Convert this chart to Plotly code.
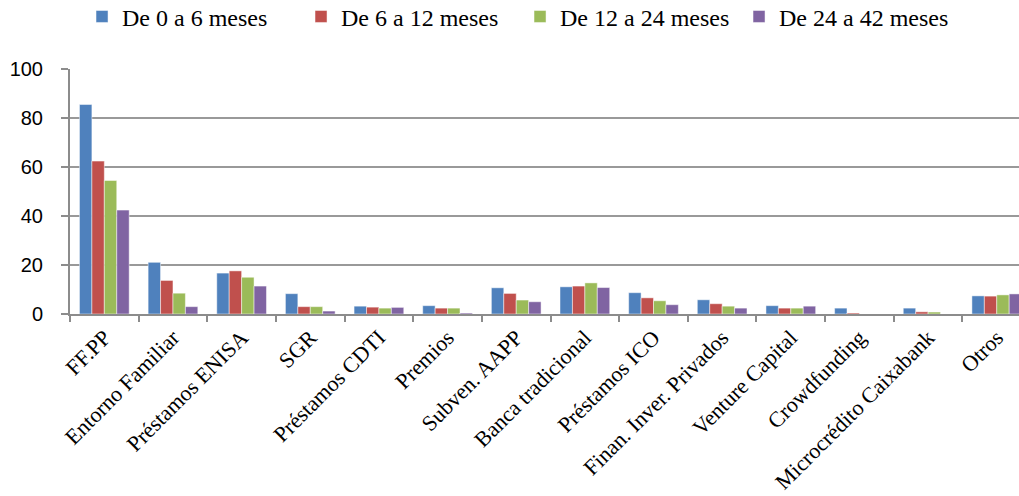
import plotly.graph_objects as go

# Fuentes de financiación por antigüedad de la empresa (%)
categorias = [
    "FF.PP", "Entorno Familiar", "Préstamos ENISA", "SGR", "Préstamos CDTI",
    "Premios", "Subven. AAPP", "Banca tradicional", "Préstamos ICO",
    "Finan. Inver. Privados", "Venture Capital", "Crowdfunding",
    "Microcrédito Caixabank", "Otros",
]
de_0_a_6 = [85.5, 21.1, 16.7, 8.3, 3.2, 3.4, 10.7, 11.1, 8.7, 5.8, 3.4, 2.4, 2.4, 7.4]
de_6_a_12 = [62.4, 13.7, 17.6, 3.0, 2.8, 2.4, 8.4, 11.4, 6.6, 4.2, 2.4, 0.4, 0.9, 7.3]
de_12_a_24 = [54.5, 8.5, 15.0, 3.0, 2.4, 2.4, 5.7, 12.7, 5.4, 3.2, 2.4, 0.0, 0.8, 7.8]
de_24_a_42 = [42.4, 3.0, 11.4, 1.2, 2.7, 0.4, 5.0, 10.8, 3.8, 2.4, 3.2, 0.0, 0.0, 8.2]

series = [
    ("De 0 a 6 meses", de_0_a_6, "#4F81BD"),
    ("De 6 a 12 meses", de_6_a_12, "#C0504D"),
    ("De 12 a 24 meses", de_12_a_24, "#9BBB59"),
    ("De 24 a 42 meses", de_24_a_42, "#8064A2"),
]

serif = "Liberation Serif"
sans = "Liberation Sans"

fig = go.Figure()
for nombre, valores, color in series:
    fig.add_trace(go.Bar(
        x=categorias, y=valores, name=nombre,
        marker=dict(color=color, line=dict(color="rgba(255,255,255,0.6)", width=0.8)),
    ))

fig.update_layout(
    width=1019, height=496,
    font=dict(family=serif, color="black"),
    margin=dict(l=70, r=0, t=69, b=181.5, pad=0, autoexpand=False),
    paper_bgcolor="white", plot_bgcolor="white",
    barmode="group", bargap=0.276, bargroupgap=0,
    showlegend=True,
    legend=dict(
        orientation="h",
        xref="container", x=0.0805, xanchor="left",
        yref="container", y=0.966, yanchor="middle",
        font=dict(family=serif, size=24, color="black"),
        itemwidth=30, traceorder="normal",
        entrywidth=174, entrywidthmode="pixels",
    ),
    xaxis=dict(
        type="category", range=[-0.5, 13.324], automargin=False,
        showline=True, linecolor="#8c8c8c", linewidth=2,
        ticks="outside", tickson="boundaries", ticklen=6, tickcolor="#8c8c8c", tickwidth=2,
        tickangle=-45, tickfont=dict(family=serif, size=22, color="black"),
        showgrid=False, zeroline=False,
    ),
    yaxis=dict(
        range=[0, 100], tickvals=[0, 20, 40, 60, 80, 100], automargin=False,
        showline=True, linecolor="#8c8c8c", linewidth=2,
        ticks="outside", ticklen=7, tickcolor="#8c8c8c", tickwidth=2,
        tickfont=dict(family=sans, size=20, color="black"),
        ticklabelstandoff=14,
        showgrid=True, gridcolor="#999999", gridwidth=2, zeroline=False,
    ),
)

fig.write_html("out.html")
